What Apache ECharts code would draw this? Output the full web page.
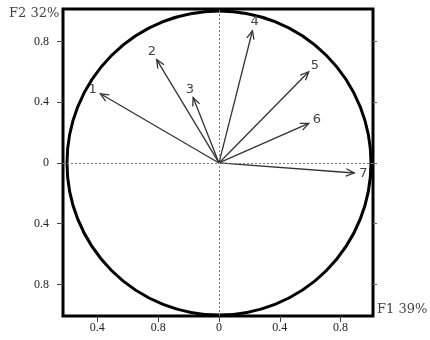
<!DOCTYPE html>
<html>
<head>
<meta charset="utf-8">
<script src="https://cdn.jsdelivr.net/npm/echarts@6/dist/echarts.min.js"></script>
<style>
  html, body { margin: 0; padding: 0; background: #fff; }
  #chartCircle { width: 430px; height: 340px; }
</style>
</head>
<body>
<div id="chartCircle"></div>
<script>
// correlation circle: variable coordinates on F1 / F2
var varNames = ['1', '2', '3', '4', '5', '6', '7'];
var f1Values = [-0.78, -0.41, -0.17, 0.22, 0.59, 0.59, 0.89];
var f2Values = [0.455, 0.68, 0.43, 0.87, 0.60, 0.26, -0.066];

var xTickValues = [-0.8, -0.4, 0, 0.4, 0.8];
var xTickLabels = ['0.4', '0.8', '0', '0.4', '0.8'];
var yTickValues = [0.8, 0.4, 0, -0.4, -0.8];
var yTickLabels = ['0.8', '0.4', '0', '0.4', '0.8'];

var xAxisTitle = 'F1 39%';
var yAxisTitle = 'F2 32%';

var dashedVars = ['3'];

var labelFont = 'Liberation Serif';

function lookup(values, labels, v) {
  for (var i = 0; i < values.length; i++) {
    if (Math.abs(values[i] - v) < 1e-6) return labels[i];
  }
  return '';
}

var vectorData = varNames.map(function(name, i) {
  return [f1Values[i], f2Values[i], name];
});

var chart = echarts.init(document.getElementById('chartCircle'));

var option = {
  backgroundColor: '#fff',
  animation: false,
  grid: {
    left: 63,
    right: 57,
    top: 9,
    bottom: 24,
    show: true,
    borderColor: '#000',
    borderWidth: 3,
    backgroundColor: 'transparent'
  },
  xAxis: {
    type: 'value',
    min: -1.026,
    max: 1.013,
    axisLine: { show: false, onZero: false },
    splitLine: { show: false },
    axisTick: {
      show: true,
      length: 6,
      customValues: xTickValues,
      lineStyle: { color: '#444' }
    },
    axisLabel: {
      customValues: xTickValues,
      margin: 6,
      color: '#222',
      fontFamily: labelFont,
      fontSize: 12,
      formatter: function(v) {
        return lookup(xTickValues, xTickLabels, v);
      }
    }
  },
  yAxis: [
    {
      type: 'value',
      min: -1.007,
      max: 1.013,
      axisLine: { show: false, onZero: false },
      splitLine: { show: false },
      axisTick: {
        show: true,
        length: 6,
        customValues: yTickValues,
        lineStyle: { color: '#444' }
      },
      axisLabel: {
        customValues: yTickValues,
        margin: 14,
        color: '#222',
        fontFamily: labelFont,
        fontSize: 12,
        formatter: function(v) {
          return lookup(yTickValues, yTickLabels, v);
        }
      }
    },
    {
      type: 'value',
      position: 'right',
      min: -1.007,
      max: 1.013,
      axisLine: { show: false, onZero: false },
      splitLine: { show: false },
      axisTick: {
        show: true,
        length: 4,
        customValues: yTickValues,
        lineStyle: { color: '#666' }
      },
      axisLabel: { show: false }
    }
  ],
  graphic: [
    {
      type: 'text',
      left: 9,
      top: 7,
      style: {
        text: yAxisTitle,
        fill: '#444',
        font: '13px "DejaVu Serif"'
      }
    },
    {
      type: 'text',
      left: 377,
      top: 303,
      style: {
        text: xAxisTitle,
        fill: '#444',
        font: '13px "DejaVu Serif"'
      }
    }
  ],
  series: [
    {
      // unit circle
      type: 'custom',
      silent: true,
      clip: false,
      data: [[0, 0, 1]],
      renderItem: function(params, api) {
        var c = api.coord([api.value(0), api.value(1)]);
        var s = api.size([api.value(2), api.value(2)]);
        return {
          type: 'circle',
          shape: { cx: c[0], cy: c[1], r: (s[0] + s[1]) / 2 },
          style: { fill: 'none', stroke: '#000', lineWidth: 3 }
        };
      },
      markLine: {
        silent: true,
        symbol: ['none', 'none'],
        label: { show: false },
        lineStyle: { color: '#777', width: 1, type: [2, 2] },
        data: [{ xAxis: 0 }, { yAxis: 0 }]
      },
      z: 2
    },
    {
      // variable arrows
      type: 'custom',
      silent: true,
      clip: false,
      data: vectorData,
      renderItem: function(params, api) {
        var p0 = api.coord([0, 0]);
        var p1 = api.coord([api.value(0), api.value(1)]);
        var name = api.value(2);
        var dx = p1[0] - p0[0];
        var dy = p1[1] - p0[1];
        var len = Math.sqrt(dx * dx + dy * dy);
        var ux = dx / len;
        var uy = dy / len;
        var headLen = 9;
        var ang = 0.42;
        var cos = Math.cos(ang);
        var sin = Math.sin(ang);
        // back-pointing vectors rotated for the two barbs
        var bx = -ux, by = -uy;
        var h1 = [p1[0] + headLen * (bx * cos - by * sin), p1[1] + headLen * (bx * sin + by * cos)];
        var h2 = [p1[0] + headLen * (bx * cos + by * sin), p1[1] + headLen * (-bx * sin + by * cos)];
        var dashed = dashedVars.indexOf(name) >= 0;
        var lineStyle = {
          stroke: '#333',
          lineWidth: 1.3,
          lineDash: dashed ? [2, 2] : null,
          fill: 'none'
        };
        return {
          type: 'group',
          children: [
            {
              type: 'line',
              shape: { x1: p0[0], y1: p0[1], x2: p1[0], y2: p1[1] },
              style: lineStyle
            },
            {
              type: 'polyline',
              shape: { points: [h1, p1, h2] },
              style: { stroke: '#333', lineWidth: 1.3, fill: 'none' }
            },
            {
              type: 'text',
              x: p1[0] + ux * 9,
              y: p1[1] + uy * 9,
              style: {
                text: name,
                fill: '#444',
                font: '13px "DejaVu Sans"',
                align: 'center',
                verticalAlign: 'middle'
              }
            }
          ]
        };
      },
      z: 3
    }
  ]
};

chart.setOption(option);
window.addEventListener('resize', function() {
  chart.resize();
});
</script>
</body>
</html>
